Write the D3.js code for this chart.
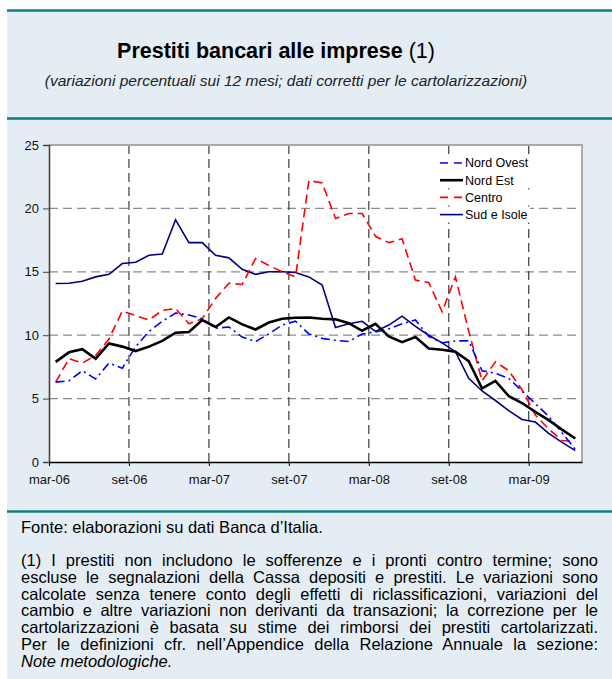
<!DOCTYPE html>
<html lang="it">
<head>
<meta charset="utf-8">
<title>Prestiti bancari alle imprese</title>
<script src="https://d3js.org/d3.v7.min.js"></script>
<style>
  body { margin: 0; background: #fff; }
  svg { display: block; font-family: "Liberation Sans", Arial, sans-serif; }
</style>
</head>
<body>
<script>
// ---- data (variazioni % sui 12 mesi), mar-06 .. giu-09
const months = ["mar-06","apr-06","mag-06","giu-06","lug-06","ago-06","set-06","ott-06","nov-06","dic-06",
                "gen-07","feb-07","mar-07","apr-07","mag-07","giu-07","lug-07","ago-07","set-07","ott-07",
                "nov-07","dic-07","gen-08","feb-08","mar-08","apr-08","mag-08","giu-08","lug-08","ago-08",
                "set-08","ott-08","nov-08","dic-08","gen-09","feb-09","mar-09","apr-09","mag-09","giu-09"];

const nordOvest = [6.3, 6.4, 7.2, 6.55, 7.8, 7.4, 9.1, 10.3, 11.1, 11.75, 11.6, 11.3, 10.55, 10.65, 9.85, 9.5,
                   10.1, 10.8, 11.1, 10.1, 9.75, 9.6, 9.5, 10.1, 10.25, 10.5, 10.9, 11.2, 9.9, 9.4,
                   9.55, 9.55, 7.2, 7.0, 6.6, 5.6, 4.6, 3.6, 2.3, 1.0];
const nordEst   = [7.9, 8.65, 8.9, 8.15, 9.35, 9.1, 8.75, 9.1, 9.55, 10.2, 10.25, 11.2, 10.65, 11.4, 10.85, 10.45,
                   11.0, 11.3, 11.38, 11.4, 11.3, 11.25, 10.95, 10.35, 10.9, 9.9, 9.45, 9.85, 8.95, 8.85,
                   8.7, 7.95, 5.8, 6.4, 5.2, 4.65, 3.95, 3.3, 2.55, 1.85];
const centro    = [6.3, 8.15, 7.8, 8.4, 9.7, 11.9, 11.55, 11.2, 11.95, 12.1, 10.9, 11.3, 12.9, 14.1, 14.0, 16.05,
                   15.5, 15.0, 14.6, 22.2, 22.0, 19.2, 19.6, 19.6, 17.8, 17.3, 17.6, 14.35, 14.15, 11.85,
                   14.6, 10.3, 6.4, 7.9, 7.2, 5.7, 3.7, 2.6, 1.7, 1.6];
const sudIsole  = [14.08, 14.1, 14.25, 14.6, 14.8, 15.65, 15.75, 16.3, 16.4, 19.1, 17.3, 17.3, 16.3, 16.1, 15.2, 14.8,
                   15.0, 15.0, 14.95, 14.6, 13.95, 10.6, 10.9, 11.1, 10.3, 10.8, 11.5, 10.7, 10.0, 9.4,
                   8.7, 6.6, 5.6, 4.85, 4.05, 3.35, 3.15, 2.25, 1.55, 0.9];

const seriesNames = ["Nord Ovest", "Nord Est", "Centro", "Sud e Isole"];
const yTicks = [0, 5, 10, 15, 20, 25];
const xTickEvery = 6;

const noteLines = [
  "(1) I prestiti non includono le sofferenze e i pronti contro termine; sono",
  "escluse le segnalazioni della Cassa depositi e prestiti. Le variazioni sono",
  "calcolate senza tenere conto degli effetti di riclassificazioni, variazioni del",
  "cambio e altre variazioni non derivanti da transazioni; la correzione per le",
  "cartolarizzazioni è basata su stime dei rimborsi dei prestiti cartolarizzati.",
  "Per le definizioni cfr. nell’Appendice della Relazione Annuale la sezione:"
];

// ---- layout
const W = 612, H = 679;
const panel = "#e5edf4", teal = "#0f7d7d";
const plot = {left: 49, right: 582, top: 145, bottom: 462};

const svg = d3.select("body").append("svg").attr("width", W).attr("height", H);

svg.append("rect").attr("width", W).attr("height", H).attr("fill", "#fff");
svg.append("rect").attr("x", 7).attr("y", 11).attr("width", W - 7).attr("height", H - 11).attr("fill", panel);

[10.5, 118.5, 511.5].forEach(function(y) {
  svg.append("line").attr("x1", 7).attr("x2", W).attr("y1", y).attr("y2", y)
     .attr("stroke", teal).attr("stroke-width", 2.6);
});

// title
const title = svg.append("text").attr("x", 276).attr("y", 58).attr("text-anchor", "middle")
  .style("font-size", "21.5px").attr("fill", "#000");
title.append("tspan").style("font-weight", "bold").text("Prestiti bancari alle imprese");
title.append("tspan").text(" (1)");

svg.append("text").attr("x", 286).attr("y", 86).attr("text-anchor", "middle")
  .style("font-size", "15.5px").style("font-style", "italic").attr("fill", "#222")
  .text("(variazioni percentuali sui 12 mesi; dati corretti per le cartolarizzazioni)");

// ---- chart
const x = d3.scaleLinear().domain([0, months.length]).range([plot.left, plot.right]);
const y = d3.scaleLinear().domain([0, 25]).range([plot.bottom, plot.top]);

svg.append("rect").attr("x", plot.left).attr("y", plot.top)
   .attr("width", plot.right - plot.left).attr("height", plot.bottom - plot.top)
   .attr("fill", "#fff");

const tickIdx = d3.range(0, months.length, xTickEvery);

// gridlines
svg.append("g").selectAll("line").data(yTicks.filter(d => d > 0 && d < 25)).join("line")
  .attr("x1", plot.left).attr("x2", plot.right)
  .attr("y1", d => y(d)).attr("y2", d => y(d))
  .attr("stroke", "#8c8c8c").attr("stroke-width", 1.2).attr("stroke-dasharray", "9,5");

svg.append("g").selectAll("line").data(tickIdx.filter(i => i > 0)).join("line")
  .attr("x1", d => x(d)).attr("x2", d => x(d))
  .attr("y1", plot.top).attr("y2", plot.bottom)
  .attr("stroke", "#4a4a4a").attr("stroke-width", 1.3).attr("stroke-dasharray", "9,5");

// plot border (top / right)
svg.append("path")
  .attr("d", `M${plot.left},${plot.top}H${plot.right}V${plot.bottom}`)
  .attr("fill", "none").attr("stroke", "#a9a9a9").attr("stroke-width", 2);

// axes
const yAxis = svg.append("g").attr("transform", `translate(${plot.left},0)`)
  .call(d3.axisLeft(y).tickValues(yTicks).tickSize(6).tickPadding(4));
yAxis.select(".domain").attr("stroke", "#444").attr("stroke-width", 1.6);
yAxis.selectAll(".tick line").attr("stroke", "#444");
yAxis.selectAll("text").style("font-size", "13px").attr("fill", "#111")
  .style("font-family", "'Liberation Sans', Arial, sans-serif");

const xAxis = svg.append("g").attr("transform", `translate(0,${plot.bottom})`)
  .call(d3.axisBottom(x).tickValues(tickIdx).tickFormat(i => months[i]).tickSize(4).tickPadding(9).tickSizeOuter(0));
xAxis.select(".domain").attr("stroke", "#000").attr("stroke-width", 1.5);
xAxis.selectAll(".tick line").attr("stroke", "#000");
xAxis.selectAll("text").style("font-size", "13px").attr("fill", "#111")
  .style("font-family", "'Liberation Sans', Arial, sans-serif");

// lines
const styles = {
  "Nord Ovest":  {data: nordOvest, color: "#0000ff", width: 1.6, dash: "9,4,2,4"},
  "Nord Est":    {data: nordEst,   color: "#000000", width: 2.6, dash: null},
  "Centro":      {data: centro,    color: "#ff0000", width: 1.6, dash: "9,5"},
  "Sud e Isole": {data: sudIsole,  color: "#000080", width: 1.6, dash: null}
};

const line = d3.line().x((d, i) => x(i + 0.5)).y(d => y(d));

// draw order: back to front
["Sud e Isole", "Centro", "Nord Ovest", "Nord Est"].forEach(function(name) {
  const s = styles[name];
  svg.append("path").datum(s.data)
    .attr("fill", "none").attr("stroke", s.color).attr("stroke-width", s.width)
    .attr("stroke-dasharray", s.dash).attr("stroke-linejoin", "miter")
    .attr("d", line);
});

// legend
const legend = svg.append("g").attr("transform", "translate(440,163)");
seriesNames.forEach(function(name, i) {
  const s = styles[name];
  const g = legend.append("g").attr("transform", `translate(0,${i * 17.2})`);
  g.append("rect").attr("x", -2).attr("y", -8).attr("width", 92).attr("height", 16).attr("fill", "#fff");
  g.append("line").attr("x1", 0).attr("x2", 23).attr("y1", 0).attr("y2", 0)
    .attr("stroke", s.color).attr("stroke-width", s.width).attr("stroke-dasharray", s.dash ? "8,6" : null);
  g.append("text").attr("x", 25).attr("dy", "0.35em").style("font-size", "12.5px").attr("fill", "#000").text(name);
});

// ---- notes
const noteSize = "16.5px", noteLeft = 21, noteWidth = 577, noteTop = 566, noteStep = 16.8;

svg.append("text").attr("x", noteLeft).attr("y", 533).style("font-size", noteSize).attr("fill", "#000")
  .text("Fonte: elaborazioni su dati Banca d’Italia.");

noteLines.forEach(function(t, i) {
  const tx = svg.append("text").attr("x", noteLeft).attr("y", noteTop + i * noteStep)
    .style("font-size", noteSize).attr("fill", "#000").text(t);
  const natural = tx.node().getComputedTextLength();
  const gaps = t.split(" ").length - 1;
  tx.style("word-spacing", ((noteWidth - natural) / gaps) + "px");
});
svg.append("text").attr("x", noteLeft).attr("y", noteTop + noteLines.length * noteStep)
  .style("font-size", noteSize).style("font-style", "italic").attr("fill", "#000")
  .text("Note metodologiche.");
</script>
</body>
</html>
